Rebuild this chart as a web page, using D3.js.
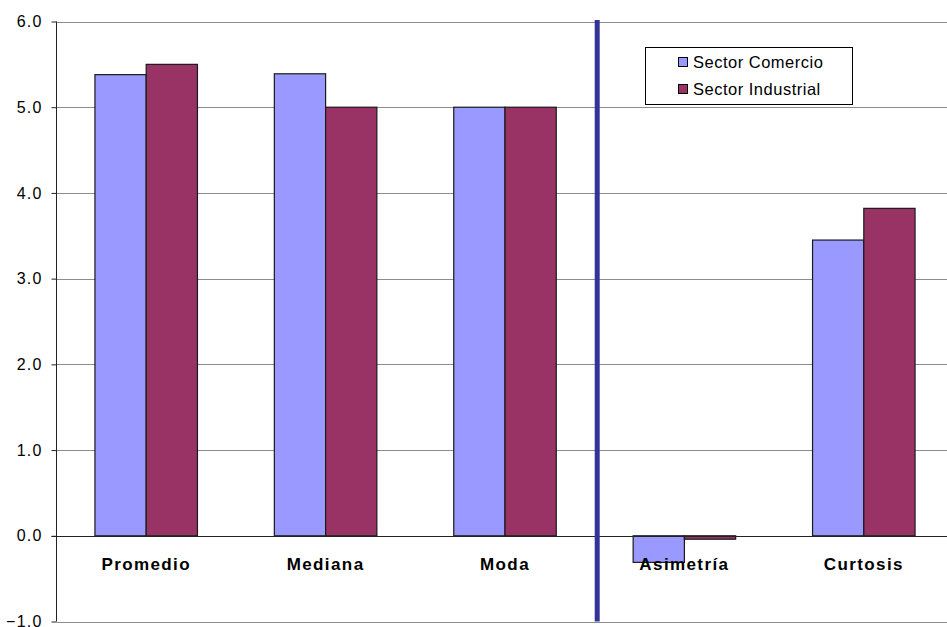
<!DOCTYPE html>
<html>
<head>
<meta charset="utf-8">
<script src="https://cdn.jsdelivr.net/npm/d3@7"></script>
<style>
  html, body { margin: 0; padding: 0; background: #fff; }
  svg { display: block; font-family: Arial, "Liberation Sans", sans-serif; }
</style>
</head>
<body>
<svg id="chart" width="947" height="627"></svg>
<script>
const categories = ["Promedio", "Mediana", "Moda", "Asimetría", "Curtosis"];
const seriesNames = ["Sector Comercio", "Sector Industrial"];
const comercio = [5.38, 5.39, 5.0, -0.31, 3.45];
const industrial = [5.50, 5.0, 5.0, -0.04, 3.82];
const colors = ["#9999FF", "#993366"];
const yTicks = [-1, 0, 1, 2, 3, 4, 5, 6];

const svg = d3.select("#chart");
const mLeft = 56.5, mRight = 953.5, mTop = 21.5, mBottom = 621.5;

const y = d3.scaleLinear().domain([-1, 6]).range([mBottom, mTop]);
const p = 1.5 / 3.5;
const x = d3.scaleBand().domain(categories).range([mLeft, mRight]).paddingInner(p).paddingOuter(p / 2);
const xs = d3.scaleBand().domain(seriesNames).range([0, x.bandwidth()]);

// gridlines
svg.append("g").selectAll("line").data(yTicks).join("line")
  .attr("x1", mLeft).attr("x2", 947)
  .attr("y1", d => Math.round(y(d)) + 0.5).attr("y2", d => Math.round(y(d)) + 0.5)
  .attr("stroke", "#8c8c8c").attr("stroke-width", 1);

// bars
const data = categories.map((c, i) => ({ c, vals: [comercio[i], industrial[i]] }));
const groups = svg.append("g").selectAll("g").data(data).join("g")
  .attr("transform", d => `translate(${x(d.c)},0)`);
groups.selectAll("rect").data(d => d.vals.map((v, j) => ({ v, s: seriesNames[j], j }))).join("rect")
  .attr("x", d => xs(d.s))
  .attr("width", xs.bandwidth())
  .attr("y", d => y(Math.max(0, d.v)))
  .attr("height", d => Math.abs(y(d.v) - y(0)))
  .attr("fill", d => colors[d.j])
  .attr("stroke", "#1a1a1a").attr("stroke-width", 1.2);

// zero line
svg.append("line").attr("x1", mLeft - 5).attr("x2", 947)
  .attr("y1", Math.round(y(0)) + 0.5).attr("y2", Math.round(y(0)) + 0.5)
  .attr("stroke", "#222").attr("stroke-width", 1);

// y axis
const yAxis = d3.axisLeft(y).tickValues(yTicks).tickFormat(d3.format(".1f")).tickSize(5).tickPadding(9);
const ya = svg.append("g").attr("transform", `translate(${mLeft},0)`).call(yAxis);
ya.select(".domain").attr("stroke", "#222").attr("d", `M-0,${mTop}V${mBottom}`);
ya.selectAll(".tick line").attr("stroke", "#222");
ya.selectAll(".tick text").attr("font-size", 16).attr("fill", "#000")
  .attr("font-family", "Arial, 'Liberation Sans', sans-serif").style("letter-spacing", "1.2px");

// separator line
const sepX = (x("Moda") + x.bandwidth() + x("Asimetría")) / 2 + 2.5;
svg.append("line").attr("x1", sepX).attr("x2", sepX).attr("y1", 20).attr("y2", mBottom)
  .attr("stroke", "#333399").attr("stroke-width", 5);

// category labels
svg.append("g").selectAll("text").data(categories).join("text")
  .attr("x", d => x(d) + x.bandwidth() / 2)
  .attr("y", 570)
  .attr("text-anchor", "middle")
  .attr("font-size", 17).attr("font-weight", "bold")
  .style("letter-spacing", "1.4px")
  .text(d => d);

// legend
const lg = svg.append("g");
lg.append("rect").attr("x", 645.5).attr("y", 47.5).attr("width", 207).attr("height", 57)
  .attr("fill", "#fff").attr("stroke", "#000").attr("stroke-width", 1);
seriesNames.forEach((s, i) => {
  const yy = 62 + i * 27;
  lg.append("rect").attr("x", 678.5).attr("y", yy - 4.5).attr("width", 9).attr("height", 9)
    .attr("fill", colors[i]).attr("stroke", "#000").attr("stroke-width", 1);
  lg.append("text").attr("x", 693).attr("y", yy + 6).attr("font-size", 16.5)
    .style("letter-spacing", "0.5px").text(s);
});
</script>
</body>
</html>
